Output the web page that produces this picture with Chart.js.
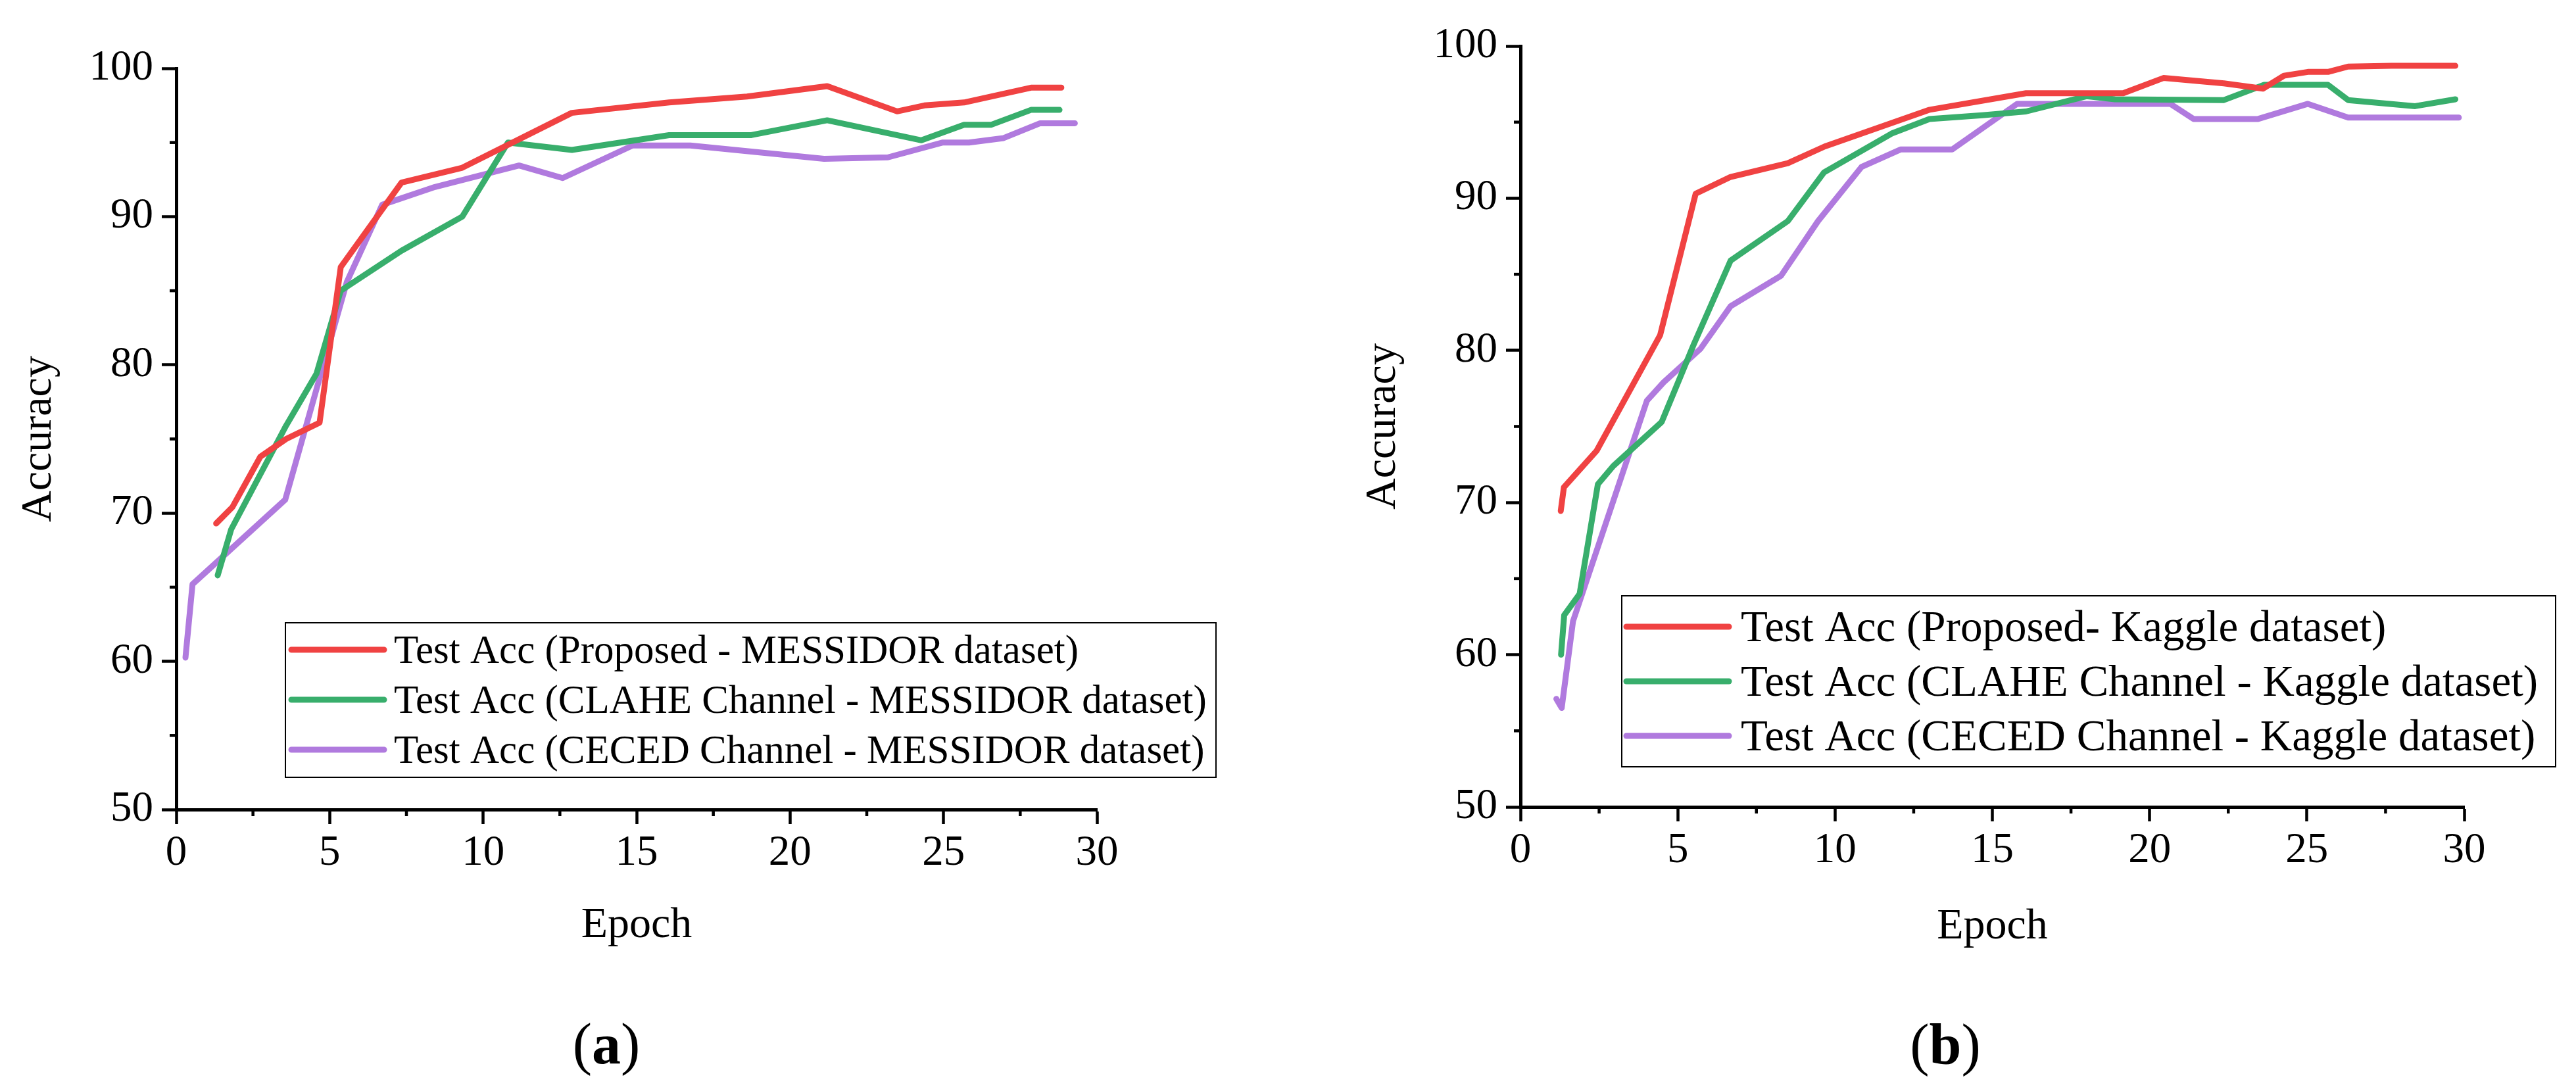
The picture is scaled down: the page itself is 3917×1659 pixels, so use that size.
<!DOCTYPE html>
<html>
<head>
<meta charset="utf-8">
<script src="https://cdn.jsdelivr.net/npm/chart.js@4.4.1/dist/chart.umd.min.js"></script>
<style>
  html, body { margin: 0; padding: 0; background: #fff; }
  body { width: 3917px; height: 1659px; position: relative; overflow: hidden; }
  canvas { position: absolute; top: 0; }
  #chartA { left: 0; }
  #chartB { left: 2044px; }
  .caption {
    position: absolute; width: 240px; text-align: center;
    font-family: "Liberation Serif", serif; font-size: 88px; line-height: 88px; color: #000;
  }
</style>
</head>
<body>
<canvas id="chartA" width="1900" height="1447"></canvas>
<canvas id="chartB" width="1873" height="1449"></canvas>
<div class="caption" style="left:802px; top:1544px;">(<b>a</b>)</div>
<div class="caption" style="left:2838px; top:1545px;">(<b>b</b>)</div>
<script>
// ---- axes ----
const xTicks = [0, 5, 10, 15, 20, 25, 30];
const yTicks = [50, 60, 70, 80, 90, 100];
const xMinor = [2.5, 7.5, 12.5, 17.5, 22.5, 27.5];
const yMinor = [55, 65, 75, 85, 95];

// ---- (a) MESSIDOR ----
const labelsA = [
  'Test Acc (Proposed - MESSIDOR dataset)',
  'Test Acc (CLAHE Channel - MESSIDOR dataset)',
  'Test Acc (CECED Channel - MESSIDOR dataset)'
];
const redA_x = [1.30, 1.83, 2.74, 3.58, 4.67, 5.36, 7.34, 9.32, 12.89, 16.06, 18.6, 21.21, 23.49, 24.38, 25.67, 27.85, 28.84];
const redA_y = [69.3, 70.4, 73.8, 75.0, 76.1, 86.6, 92.3, 93.3, 97.0, 97.7, 98.1, 98.8, 97.1, 97.5, 97.7, 98.7, 98.7];
const greenA_x = [1.35, 1.79, 3.58, 4.57, 5.36, 7.34, 9.32, 10.81, 12.89, 16.06, 18.74, 21.21, 24.28, 25.67, 26.56, 27.85, 28.78];
const greenA_y = [65.8, 68.9, 75.9, 79.4, 85.0, 87.7, 90.0, 95.0, 94.5, 95.5, 95.5, 96.5, 95.15, 96.2, 96.2, 97.2, 97.2];
const purpleA_x = [0.30, 0.53, 3.55, 5.56, 6.71, 8.43, 11.17, 12.59, 14.87, 16.75, 21.11, 23.19, 24.98, 25.83, 26.96, 28.15, 29.28];
const purpleA_y = [60.25, 65.2, 70.9, 85.6, 90.8, 92.0, 93.45, 92.6, 94.8, 94.8, 93.9, 94.0, 95.0, 95.0, 95.3, 96.3, 96.3];

// ---- (b) Kaggle ----
const labelsB = [
  'Test Acc (Proposed- Kaggle dataset)',
  'Test Acc (CLAHE Channel - Kaggle dataset)',
  'Test Acc (CECED Channel - Kaggle dataset)'
];
const redB_x = [1.28, 1.38, 2.42, 4.44, 5.57, 6.68, 8.50, 9.67, 12.98, 16.07, 19.16, 20.44, 22.36, 23.6, 24.27, 25.03, 25.67, 26.31, 27.7, 29.72];
const redB_y = [69.45, 71.0, 73.4, 81.0, 90.3, 91.4, 92.3, 93.4, 95.8, 96.9, 96.9, 97.9, 97.55, 97.2, 98.05, 98.3, 98.3, 98.65, 98.7, 98.7];
const greenB_x = [1.29, 1.39, 1.88, 2.46, 2.95, 4.49, 5.51, 6.68, 8.50, 9.65, 11.8, 13.0, 14.68, 16.07, 17.99, 18.9, 22.36, 23.64, 25.67, 26.31, 28.44, 29.72];
const greenB_y = [60.0, 62.6, 64.0, 71.2, 72.4, 75.3, 80.4, 85.9, 88.5, 91.7, 94.25, 95.2, 95.45, 95.7, 96.7, 96.5, 96.45, 97.45, 97.45, 96.45, 96.05, 96.5];
const purpleB_x = [1.14, 1.31, 1.67, 4.02, 4.55, 5.72, 6.68, 8.28, 9.46, 10.84, 12.08, 13.72, 15.79, 20.66, 21.4, 23.43, 25.03, 26.31, 29.83];
const purpleB_y = [57.1, 56.5, 62.2, 76.7, 77.9, 80.1, 82.9, 84.9, 88.5, 92.05, 93.2, 93.2, 96.2, 96.2, 95.2, 95.2, 96.2, 95.3, 95.3];

const colors = ['rgb(240,66,66)', 'rgb(56,174,108)', 'rgb(176,122,222)'];
const FONT = 'Liberation Serif';
const LINE_W = 9;

Chart.defaults.font.family = FONT;
Chart.defaults.color = '#000';

// пары x/y -> точки
function toPoints(xs, ys) {
  return xs.map((x, i) => ({ x: x, y: ys[i] }));
}

function makeDataset(label, color, xs, ys) {
  return {
    label: label,
    data: toPoints(xs, ys),
    borderColor: color,
    backgroundColor: color,
    borderWidth: LINE_W,
    borderCapStyle: 'round',
    borderJoinStyle: 'round',
    pointRadius: 0,
    tension: 0,
    clip: false
  };
}

// малые засечки + рамка легенды внутри области графика
const axisExtras = {
  id: 'axisExtras',
  afterDraw(chart, args, opts) {
    const ctx = chart.ctx;
    const area = chart.chartArea;
    const xs = chart.scales.x, ys = chart.scales.y;
    ctx.save();
    ctx.strokeStyle = '#000';
    ctx.lineWidth = 4.5;
    xMinor.forEach(v => {
      const px = xs.getPixelForValue(v);
      ctx.beginPath(); ctx.moveTo(px, area.bottom); ctx.lineTo(px, area.bottom + 10); ctx.stroke();
    });
    yMinor.forEach(v => {
      const py = ys.getPixelForValue(v);
      ctx.beginPath(); ctx.moveTo(area.left, py); ctx.lineTo(area.left - 10, py); ctx.stroke();
    });

    const L = opts.legend;
    ctx.fillStyle = '#fff';
    ctx.fillRect(L.x, L.y, L.w, L.h);
    ctx.lineWidth = 2;
    ctx.strokeRect(L.x, L.y, L.w, L.h);
    ctx.font = L.font + 'px "' + FONT + '", serif';
    ctx.textBaseline = 'alphabetic';
    ctx.textAlign = 'left';
    chart.data.datasets.forEach((ds, i) => {
      const cy = L.row0 + i * L.gap;
      ctx.strokeStyle = ds.borderColor;
      ctx.lineWidth = LINE_W;
      ctx.lineCap = 'round';
      ctx.beginPath(); ctx.moveTo(L.s0, cy); ctx.lineTo(L.s1, cy); ctx.stroke();
      ctx.fillStyle = '#000';
      ctx.fillText(ds.label, L.tx, cy + 0.331 * L.font);
    });
    ctx.restore();
  }
};

function makeChart(id, datasets, pad, xHeight, legend) {
  const tickFont = { family: FONT, size: 65 };
  const titleFont = { family: FONT, size: 66 };
  return new Chart(document.getElementById(id), {
    type: 'line',
    data: { datasets: datasets },
    plugins: [axisExtras],
    options: {
      responsive: false,
      devicePixelRatio: 1,
      animation: false,
      layout: { padding: pad },
      plugins: {
        legend: { display: false },
        tooltip: { enabled: false },
        axisExtras: { legend: legend }
      },
      scales: {
        x: {
          type: 'linear',
          min: 0, max: 30,
          afterBuildTicks: s => { s.ticks = xTicks.map(v => ({ value: v })); },
          afterFit: s => { s.height = xHeight; },
          ticks: { font: tickFont, color: '#000', padding: 6, maxRotation: 0 },
          grid: { display: true, drawOnChartArea: false, drawTicks: true, tickLength: 22, tickWidth: 4.5, tickColor: '#000' },
          border: { display: true, color: '#000', width: 5 },
          title: { display: true, text: 'Epoch', font: titleFont, color: '#000', padding: 0 }
        },
        y: {
          type: 'linear',
          min: 50, max: 100,
          afterBuildTicks: s => { s.ticks = yTicks.map(v => ({ value: v })); },
          afterFit: s => { s.width = 268; },
          ticks: { font: tickFont, color: '#000', padding: 13 },
          grid: { display: true, drawOnChartArea: false, drawTicks: true, tickLength: 22, tickWidth: 4.5, tickColor: '#000' },
          border: { display: true, color: '#000', width: 5 },
          title: { display: true, text: 'Accuracy', font: titleFont, color: '#000', padding: { top: 20, bottom: 0 } }
        }
      }
    }
  });
}

makeChart('chartA', [
  makeDataset(labelsA[0], colors[0], redA_x, redA_y),
  makeDataset(labelsA[1], colors[1], greenA_x, greenA_y),
  makeDataset(labelsA[2], colors[2], purpleA_x, purpleA_y)
], { top: 104, right: 232, left: 0, bottom: 0 }, 216,
  { x: 434, y: 947, w: 1415, h: 235, row0: 988, gap: 76, s0: 443, s1: 584, tx: 599, font: 61 });

makeChart('chartB', [
  makeDataset(labelsB[0], colors[0], redB_x, redB_y),
  makeDataset(labelsB[1], colors[1], greenB_x, greenB_y),
  makeDataset(labelsB[2], colors[2], purpleB_x, purpleB_y)
], { top: 70, right: 170, left: 0, bottom: 0 }, 222,
  { x: 422, y: 906, w: 1420, h: 260, row0: 953, gap: 83, s0: 429, s1: 585, tx: 603, font: 67 });
</script>
</body>
</html>
